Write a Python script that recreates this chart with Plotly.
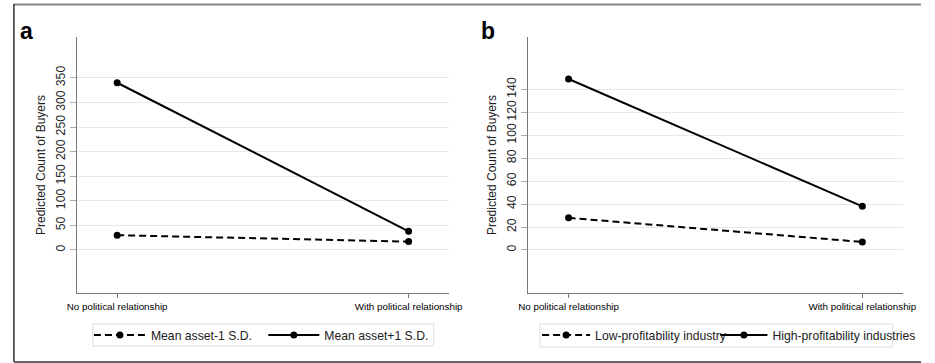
import plotly.graph_objects as go

# ---- data ----
categories = ["No political relationship", "With political relationship"]
a_low_name = "Mean asset-1 S.D."
a_high_name = "Mean asset+1 S.D."
a_low = [30, 17]
a_high = [340, 38]
b_low_name = "Low-profitability industry"
b_high_name = "High-profitability industries"
b_low = [28, 7]
b_high = [149, 38]
a_ticks = [0, 50, 100, 150, 200, 250, 300, 350]
b_ticks = [0, 20, 40, 60, 80, 100, 120, 140]
y_title = "Predicted Count of Buyers"

W, H = 935, 363
FONT = "Liberation Sans, Arial, sans-serif"

def px(x):
    return x / W

def py(y):
    return 1 - y / H

fig = go.Figure()

def add_pair(xa, ya, legs, low, high, low_name, high_name):
    fig.add_trace(go.Scatter(
        x=categories, y=low, name=low_name, mode="lines+markers",
        xaxis=xa, yaxis=ya, legend=legs[0],
        line=dict(color="black", width=2, dash="7px,4px"),
        marker=dict(color="black", size=7, symbol="circle")))
    fig.add_trace(go.Scatter(
        x=categories, y=high, name=high_name, mode="lines+markers",
        xaxis=xa, yaxis=ya, legend=legs[1],
        line=dict(color="black", width=2),
        marker=dict(color="black", size=7, symbol="circle")))

add_pair("x", "y", ("legend", "legend2"), a_low, a_high, a_low_name, a_high_name)
add_pair("x2", "y2", ("legend3", "legend4"), b_low, b_high, b_low_name, b_high_name)

xcommon = dict(
    type="category", range=[-0.137, 1.14], showgrid=False, zeroline=False,
    showline=True, linecolor="#777", linewidth=1,
    ticks="outside", ticklen=4, tickcolor="#777",
    tickfont=dict(family=FONT, size=9.8, color="#000"),
)
ycommon = dict(
    showgrid=True, gridcolor="#e8e8e8", gridwidth=1, zeroline=False,
    showline=True, linecolor="#777", linewidth=1,
    ticks="outside", ticklen=6, tickcolor="#aaa", tickangle=-90,
    tickfont=dict(family=FONT, size=12.3, color="#222"),
    title=dict(text=y_title, font=dict(family=FONT, size=12, color="#222"), standoff=6),
)

def leg(x_left, iw):
    return dict(
        orientation="h", xanchor="left", yanchor="middle",
        x=px(x_left), y=py(335), itemwidth=iw,
        borderwidth=0, bgcolor="rgba(0,0,0,0)",
        font=dict(family=FONT, size=12.2, color="#222"),
    )

fig.update_layout(
    width=W, height=H, margin=dict(l=0, r=0, t=0, b=0),
    paper_bgcolor="white", plot_bgcolor="white",
    font=dict(family=FONT),
    xaxis=dict(domain=[px(69), px(451)], anchor="y", **xcommon),
    yaxis=dict(domain=[py(293), py(37)], anchor="x", range=[-87.5, 433],
               tickvals=a_ticks, **ycommon),
    xaxis2=dict(domain=[px(532), px(917)], anchor="y2", **xcommon),
    yaxis2=dict(domain=[py(293), py(37)], anchor="x2", range=[-37.5, 185.6],
                tickvals=b_ticks, **ycommon),
    legend=leg(81, 52),
    legend2=leg(260, 51),
    legend3=leg(541, 48),
    legend4=leg(724, 47),
    showlegend=True,
)

# legend frames
fig.add_shape(type="rect", xref="paper", yref="paper",
              x0=px(85), x1=px(435), y0=py(346), y1=py(324),
              line=dict(color="#dddddd", width=1), fillcolor="rgba(0,0,0,0)")
fig.add_shape(type="rect", xref="paper", yref="paper",
              x0=px(544), x1=px(906), y0=py(347), y1=py(324),
              line=dict(color="#dddddd", width=1), fillcolor="rgba(0,0,0,0)")

fig.add_annotation(text="<b>a</b>", xref="paper", yref="paper", x=px(8), y=py(31),
                   xanchor="left", yanchor="middle", showarrow=False,
                   font=dict(family=FONT, size=23, color="black"))
fig.add_annotation(text="<b>b</b>", xref="paper", yref="paper", x=px(481), y=py(31),
                   xanchor="left", yanchor="middle", showarrow=False,
                   font=dict(family=FONT, size=23, color="black"))

# figure frame
fig.add_shape(type="line", xref="paper", yref="paper", x0=px(4), x1=1, y0=py(4.5), y1=py(4.5),
              line=dict(color="#888888", width=2))
fig.add_shape(type="line", xref="paper", yref="paper", x0=px(4), x1=px(4), y0=py(4), y1=py(362),
              line=dict(color="#333333", width=1.5))
fig.add_shape(type="line", xref="paper", yref="paper", x0=px(4), x1=1, y0=py(362), y1=py(362),
              line=dict(color="#333333", width=1.5))

fig.write_html("out.html",
               config={"displayModeBar": False},
               post_script="document.body.style.margin='0px';document.body.style.overflow='hidden';")
